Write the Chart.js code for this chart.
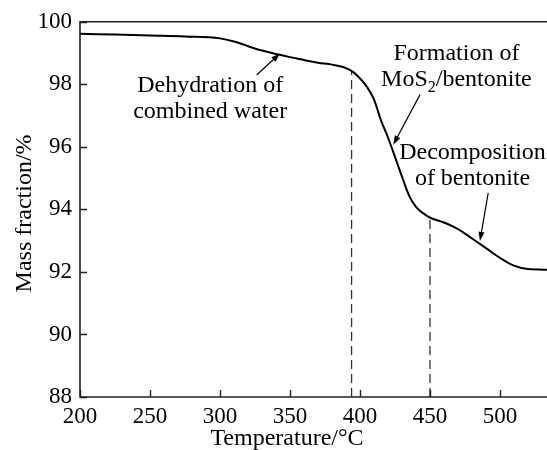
<!DOCTYPE html>
<html>
<head>
<meta charset="utf-8">
<script src="https://cdn.jsdelivr.net/npm/chart.js@4/dist/chart.umd.min.js"></script>
<style>
  html, body { margin: 0; padding: 0; background: #fff; }
  #wrap { width: 547px; height: 450px; }
</style>
</head>
<body>
<div id="wrap"><canvas id="tgChart"></canvas></div>
<script>
// TG curve: temperature (°C) against mass fraction (%)
var temps = [200, 225, 250, 275, 300, 310, 320, 330, 340, 350, 360, 370, 380, 390, 395,
             400, 405, 410, 415, 420, 425, 430, 435, 440, 445, 450, 460, 470, 480, 490,
             500, 510, 520, 535];
var mass = [99.62, 99.59, 99.56, 99.53, 99.47, 99.37, 99.22, 99.08, 98.97, 98.87, 98.78,
            98.69, 98.63, 98.52, 98.40, 98.19, 97.92, 97.52, 96.85, 96.30, 95.68, 95.05,
            94.45, 94.08, 93.88, 93.74, 93.58, 93.37, 93.07, 92.76, 92.45, 92.20, 92.09, 92.07];

var xTicks = [200, 250, 300, 350, 400, 450, 500];
var yTicks = [88, 90, 92, 94, 96, 98, 100];

// dashed drop lines at the start of each step
var markTemps = [394, 450];
var markMass = [98.42, 93.74];

var serif = 'Liberation Serif';
var tickSize = 23;
var textSize = 24;

// text labels with their arrows, in data units
var notes = [
  { lines: [['Dehydration of'], ['combined water']], at: [293, 97.77],
    arrow: [[326.2, 98.30], [342.9, 98.99]] },
  { lines: [['Formation of'], ['MoS', { sub: '2' }, '/bentonite']], at: [468.9, 98.78],
    arrow: [[442.9, 97.67], [423.8, 96.07]] },
  { lines: [['Decomposition'], ['of bentonite']], at: [480.4, 95.60],
    arrow: [[491.6, 94.53], [485.7, 92.99]] }
];

var curve = temps.map(function (t, i) { return { x: t, y: mass[i] }; });

var datasets = [{
  data: curve,
  borderColor: '#000',
  borderWidth: 2,
  pointRadius: 0,
  cubicInterpolationMode: 'monotone',
  fill: false
}];
markTemps.forEach(function (t, i) {
  datasets.push({
    data: [{ x: t, y: 88 }, { x: t, y: markMass[i] }],
    borderColor: '#333',
    borderWidth: 1.3,
    borderDash: [9, 5],
    pointRadius: 0,
    fill: false
  });
});

function runWidth(ctx, run) {
  if (typeof run === 'string') {
    ctx.font = textSize + 'px ' + serif;
    return ctx.measureText(run).width;
  }
  ctx.font = Math.round(textSize * 0.65) + 'px ' + serif;
  return ctx.measureText(run.sub).width;
}

function drawLine(ctx, runs, cx, y) {
  var total = 0;
  runs.forEach(function (r) { total += runWidth(ctx, r); });
  var x = cx - total / 2;
  runs.forEach(function (r) {
    var w = runWidth(ctx, r);
    if (typeof r === 'string') {
      ctx.fillText(r, x, y);
    } else {
      ctx.fillText(r.sub, x, y + 6);
    }
    x += w;
  });
}

function drawArrow(ctx, x1, y1, x2, y2) {
  var ang = Math.atan2(y2 - y1, x2 - x1);
  var len = 9, half = 3;
  ctx.beginPath();
  ctx.moveTo(x1, y1);
  ctx.lineTo(x2 - Math.cos(ang) * len * 0.8, y2 - Math.sin(ang) * len * 0.8);
  ctx.stroke();
  ctx.beginPath();
  ctx.moveTo(x2, y2);
  ctx.lineTo(x2 - Math.cos(ang) * len - Math.sin(ang) * half,
             y2 - Math.sin(ang) * len + Math.cos(ang) * half);
  ctx.lineTo(x2 - Math.cos(ang) * len + Math.sin(ang) * half,
             y2 - Math.sin(ang) * len - Math.cos(ang) * half);
  ctx.closePath();
  ctx.fill();
}

var framePlugin = {
  id: 'frame',
  afterDatasetsDraw: function (chart) {
    var ctx = chart.ctx;
    var a = chart.chartArea;
    var xs = chart.scales.x, ys = chart.scales.y;
    ctx.save();

    // axes frame: left, bottom, top
    ctx.strokeStyle = '#222';
    ctx.lineWidth = 1.6;
    ctx.beginPath();
    ctx.moveTo(a.right + 2, a.top);
    ctx.lineTo(a.left, a.top);
    ctx.lineTo(a.left, a.bottom);
    ctx.lineTo(a.right + 2, a.bottom);
    ctx.stroke();

    // inward ticks
    ctx.lineWidth = 1.4;
    ctx.beginPath();
    xTicks.forEach(function (v) {
      var px = Math.round(xs.getPixelForValue(v)) + 0.5;
      ctx.moveTo(px, a.bottom);
      ctx.lineTo(px, a.bottom - 7);
    });
    yTicks.forEach(function (v) {
      var py = Math.round(ys.getPixelForValue(v)) + 0.5;
      ctx.moveTo(a.left, py);
      ctx.lineTo(a.left + 7, py);
    });
    ctx.stroke();

    // notes
    ctx.fillStyle = '#000';
    ctx.strokeStyle = '#000';
    ctx.lineWidth = 1.2;
    ctx.textAlign = 'left';
    ctx.textBaseline = 'alphabetic';
    notes.forEach(function (n) {
      var cx = xs.getPixelForValue(n.at[0]);
      var cy = ys.getPixelForValue(n.at[1]);
      n.lines.forEach(function (runs, i) {
        drawLine(ctx, runs, cx, cy + i * 26);
      });
      drawArrow(ctx,
        xs.getPixelForValue(n.arrow[0][0]), ys.getPixelForValue(n.arrow[0][1]),
        xs.getPixelForValue(n.arrow[1][0]), ys.getPixelForValue(n.arrow[1][1]));
    });

    // axis titles
    ctx.font = textSize + 'px ' + serif;
    ctx.textAlign = 'center';
    var midTicks = (xs.getPixelForValue(xTicks[0]) + xs.getPixelForValue(xTicks[xTicks.length - 1])) / 2;
    ctx.fillText('Temperature/°C', midTicks - 3, 445);
    ctx.save();
    ctx.translate(31, (a.top + a.bottom) / 2 + 4);
    ctx.rotate(-Math.PI / 2);
    ctx.fillText('Mass fraction/%', 0, 0);
    ctx.restore();

    ctx.restore();
  }
};

var tickFont = { family: serif, size: tickSize };

new Chart(document.getElementById('tgChart'), {
  type: 'line',
  data: { datasets: datasets },
  options: {
    responsive: true,
    maintainAspectRatio: false,
    animation: false,
    layout: { padding: { top: 20, right: 0, left: 0, bottom: 0 } },
    plugins: { legend: { display: false }, tooltip: { enabled: false } },
    scales: {
      x: {
        type: 'linear',
        min: 200,
        max: 533.6,
        afterBuildTicks: function (s) { s.ticks = xTicks.map(function (v) { return { value: v }; }); },
        afterFit: function (s) { s.height = 53; },
        grid: { display: false, drawTicks: false },
        border: { display: false },
        ticks: { font: tickFont, color: '#000', padding: 6, maxRotation: 0, autoSkip: false }
      },
      y: {
        min: 88,
        max: 100,
        afterBuildTicks: function (s) { s.ticks = yTicks.map(function (v) { return { value: v }; }); },
        afterFit: function (s) { s.width = 80; },
        grid: { display: false, drawTicks: false },
        border: { display: false },
        ticks: { font: tickFont, color: '#000', padding: 8, autoSkip: false }
      }
    }
  },
  plugins: [framePlugin]
});
</script>
</body>
</html>
